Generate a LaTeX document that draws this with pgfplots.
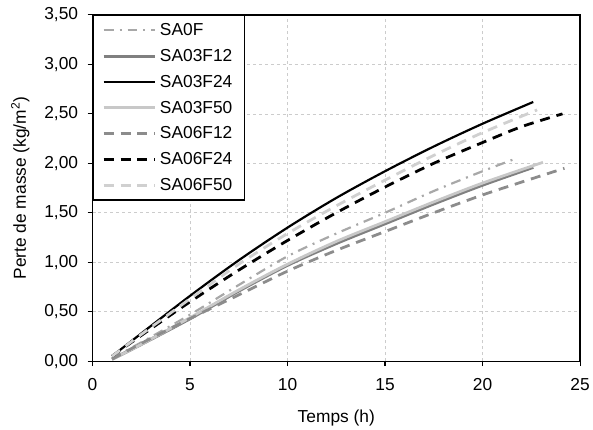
\documentclass[border=0pt]{standalone}
\usepackage{pgfplots}
\pgfplotsset{compat=1.18}
\usepackage{fontspec}
\setmainfont{Liberation Sans}
\definecolor{cA}{HTML}{A8A8A8}
\definecolor{cB}{HTML}{808080}
\definecolor{cC}{HTML}{C8C8C8}
\definecolor{cD}{HTML}{8C8C8C}
\definecolor{cE}{HTML}{D0D0D0}
\begin{document}
\begin{tikzpicture}
\begin{axis}[
  scale only axis,
  width=490bp, height=348bp,
  xmin=0, xmax=25, ymin=0, ymax=3.5,
  xtick={0,5,...,25}, ytick={0,0.5,...,3.5},
  tick pos=left, tick align=outside,
  major tick length=5bp,
  axis line style={line width=1.3bp},
  every tick/.style={black, line width=1.1bp},
  grid=major,
  grid style={dashed, gray!40, line width=0.6bp},
  font=\fontsize{17.5}{20}\selectfont,
  /pgf/number format/assume math mode=true,
  yticklabel style={xshift=-6bp, /pgf/number format/.cd, use comma, fixed, fixed zerofill, precision=2},
  xticklabel style={yshift=-9bp},
  xlabel={Temps (h)},
  ylabel={Perte de masse (kg/m\textsuperscript{2})},
  xlabel style={yshift=-12bp},
  ylabel style={yshift=8bp},
  legend style={at={(0,1)}, anchor=north west, draw=black, line width=1.2bp,
    font=\fontsize{17.5}{20}\selectfont, row sep=8.3bp, inner xsep=9bp, inner ysep=6bp,
    fill=white, nodes={inner xsep=3bp}},
  legend cell align=left,
  legend image code/.code={\draw[#1] (0bp,0bp) -- (52bp,0bp);},
  every axis plot/.append style={smooth},
]
\addplot[cA, line width=2.2bp, dash pattern=on 10bp off 6bp on 2bp off 6bp] coordinates {
(1,0.03)(2.5,0.19)(5,0.47)(7.5,0.77)(10,1.06)(12.5,1.29)(15,1.50)(17.5,1.72)(20,1.92)(21.6,2.04)};
\addlegendentry{SA0F}
\addplot[cB, line width=3.2bp] coordinates {
(1,0.02)(2.5,0.17)(5,0.43)(7.5,0.71)(10,0.97)(12.5,1.19)(15,1.39)(17.5,1.59)(20,1.78)(22.6,1.96)};
\addlegendentry{SA03F12}
\addplot[black, line width=2.2bp] coordinates {
(1,0.05)(2.5,0.28)(5,0.66)(7.5,1.02)(10,1.35)(12.5,1.65)(15,1.92)(17.5,2.17)(20,2.40)(22.6,2.62)};
\addlegendentry{SA03F24}
\addplot[cC, line width=2.8bp] coordinates {
(1,0.02)(2.5,0.17)(5,0.44)(7.5,0.72)(10,0.98)(12.5,1.21)(15,1.41)(17.5,1.61)(20,1.80)(23.1,2.01)};
\addlegendentry{SA03F50}
\addplot[cD, line width=2.8bp, dash pattern=on 10bp off 7bp] coordinates {
(1,0.02)(2.5,0.18)(5,0.43)(7.5,0.67)(10,0.91)(12.5,1.12)(15,1.31)(17.5,1.50)(20,1.68)(22,1.81)(24.2,1.95)};
\addlegendentry{SA06F12}
\addplot[black, line width=2.8bp, dash pattern=on 10bp off 7bp] coordinates {
(1,0.05)(2.5,0.26)(5,0.60)(7.5,0.92)(10,1.22)(12.5,1.50)(15,1.76)(17.5,2.00)(20,2.21)(22,2.37)(24.1,2.50)};
\addlegendentry{SA06F24}
\addplot[cE, line width=2.8bp, dash pattern=on 10bp off 7bp] coordinates {
(1,0.05)(2.5,0.27)(5,0.63)(7.5,0.98)(10,1.29)(12.5,1.57)(15,1.83)(17.5,2.08)(20,2.31)(22.8,2.54)};
\addlegendentry{SA06F50}
\end{axis}
\path (current axis.south west) ++(-93bp,-62bp) coordinate (bl);
\path (current axis.north east) ++(10bp,15bp) coordinate (tr);
\path (bl) rectangle (tr);
\end{tikzpicture}
\end{document}
